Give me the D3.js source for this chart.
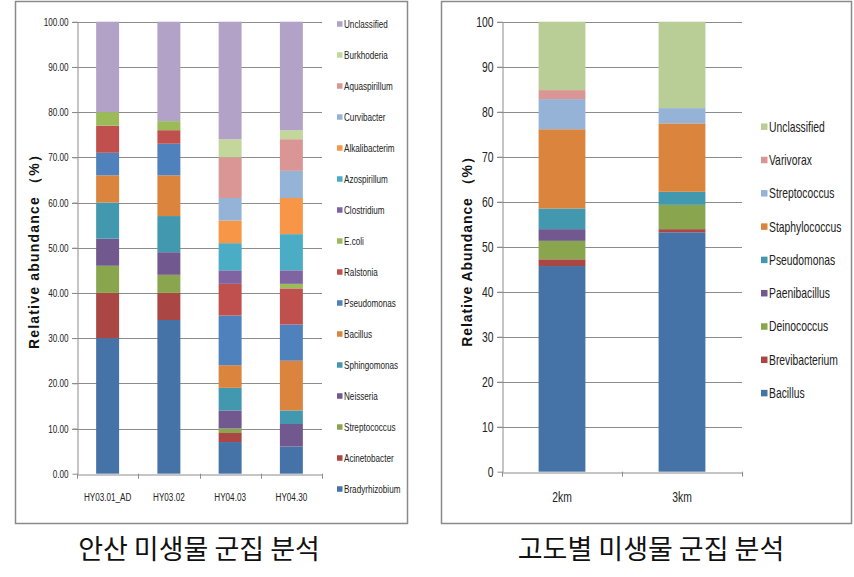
<!DOCTYPE html>
<html><head><meta charset="utf-8">
<script src="https://cdn.jsdelivr.net/npm/d3@7/dist/d3.min.js"></script>
<style>
html,body{margin:0;padding:0;background:#fff;}
svg{display:block;}
</style></head>
<body>
<svg id="chart" width="854" height="577"></svg>
<script>
// ---------- Left chart data ----------
const leftCategories = ["HY03.01_AD", "HY03.02", "HY04.03", "HY04.30"];
const leftSeriesNames = ["Bradyrhizobium","Acinetobacter","Streptococcus","Neisseria","Sphingomonas","Bacillus","Pseudomonas","Ralstonia","E.coli","Clostridium","Azospirillum","Alkalibacterim","Curvibacter","Aquaspirillum","Burkhoderia","Unclassified"];
const leftColors = ["#4572A7","#AA4643","#89A54E","#71588F","#4198AF","#DB843D","#4F81BD","#C0504D","#9BBB59","#8064A2","#4BACC6","#F79646","#95B3D7","#D99694","#C3D69B","#B3A2C7"];
const bradyrhizobium = [30, 34, 7, 6];
const acinetobacter  = [10, 6, 2, 0];
const streptococcusL = [6, 4, 1, 0];
const neisseria      = [6, 5, 4, 5];
const sphingomonas   = [8, 8, 5, 3];
const bacillusL      = [6, 9, 5, 11];
const pseudomonasL   = [5, 7, 11, 8];
const ralstonia      = [6, 3, 7, 8];
const ecoli          = [3, 2, 0, 1];
const clostridium    = [0, 0, 3, 3];
const azospirillum   = [0, 0, 6, 8];
const alkalibacterim = [0, 0, 5, 8];
const curvibacter    = [0, 0, 5, 6];
const aquaspirillum  = [0, 0, 9, 7];
const burkhoderia    = [0, 0, 4, 2];
const unclassifiedL  = [20, 22, 26, 24];
const leftTicks = ["0.00","10.00","20.00","30.00","40.00","50.00","60.00","70.00","80.00","90.00","100.00"];
const leftTitle = "안산 미생물 군집 분석";

// ---------- Right chart data ----------
const rightCategories = ["2km", "3km"];
const rightSeriesNames = ["Bacillus","Brevibacterium","Deinococcus","Paenibacillus","Pseudomonas","Staphylococcus","Streptococcus","Varivorax","Unclassified"];
const rightColors = ["#4572A7","#AA4643","#89A54E","#71588F","#4198AF","#DB843D","#95B3D7","#D99694","#B9CE96"];
const bacillusR       = [45.7, 53.2];
const brevibacterium  = [1.5, 0.7];
const deinococcus     = [4.1, 5.4];
const paenibacillus   = [2.6, 0];
const pseudomonasR    = [4.6, 2.9];
const staphylococcus  = [17.6, 15.2];
const streptococcusR  = [6.7, 3.4];
const varivorax       = [2.0, 0];
const unclassifiedR   = [15.2, 19.2];
const rightTicks = ["0","10","20","30","40","50","60","70","80","90","100"];
const rightTitle = "고도별 미생물 군집 분석";

const leftValues = [bradyrhizobium, acinetobacter, streptococcusL, neisseria, sphingomonas, bacillusL, pseudomonasL, ralstonia, ecoli, clostridium, azospirillum, alkalibacterim, curvibacter, aquaspirillum, burkhoderia, unclassifiedL];
const rightValues = [bacillusR, brevibacterium, deinococcus, paenibacillus, pseudomonasR, staphylococcus, streptococcusR, varivorax, unclassifiedR];

const svg = d3.select("#chart");
const SANS = "'Liberation Sans',Arial,sans-serif";
const SQ = 0.74; // horizontal squeeze to imitate a condensed face

function drawPanel(cfg) {
  const g = svg.append("g");
  g.append("rect").attr("x", cfg.box[0] + 0.5).attr("y", cfg.box[1] + 0.5)
    .attr("width", cfg.box[2]).attr("height", cfg.box[3])
    .attr("fill", "#fff").attr("stroke", "#8a8a8a").attr("stroke-width", 1.5);

  const x = d3.scaleBand().domain(cfg.categories).range([cfg.plot.x0, cfg.plot.x1]).paddingInner(cfg.pad).paddingOuter(cfg.pad / 2);
  const xb = d3.scaleBand().domain(cfg.categories).range([cfg.plot.x0, cfg.plot.x1]);
  const y = d3.scaleLinear().domain([0, 100]).range([cfg.plot.y0, cfg.plot.y1]);

  const tickVals = cfg.ticks.map(t => +t);
  g.append("g").selectAll("line").data(tickVals.filter(v => v > 0)).join("line")
    .attr("x1", cfg.plot.x0 - 5).attr("x2", cfg.plot.x1)
    .attr("y1", d => Math.round(y(d)) + 0.5).attr("y2", d => Math.round(y(d)) + 0.5)
    .attr("stroke", "#8c8c8c").attr("stroke-width", 1);

  const rows = cfg.categories.map((c, i) => {
    const r = { cat: c };
    cfg.series.forEach((s, j) => r[s] = cfg.values[j][i]);
    return r;
  });
  const stack = d3.stack().keys(cfg.series)(rows);
  g.append("g").selectAll("g").data(stack).join("g")
    .attr("fill", (d, i) => cfg.colors[i])
    .selectAll("rect").data(d => d.filter(p => p[1] - p[0] > 0)).join("rect")
    .attr("x", d => x(d.data.cat))
    .attr("width", x.bandwidth())
    .attr("y", d => y(d[1]))
    .attr("height", d => y(d[0]) - y(d[1]));

  const yAxis = d3.axisLeft(y).tickValues(tickVals).tickFormat((d, i) => cfg.ticks[i]).tickSize(5).tickSizeOuter(0);
  const ya = g.append("g").attr("transform", `translate(${cfg.plot.x0 + 0.5},0)`).call(yAxis);
  ya.select(".domain").attr("stroke", "#8c8c8c");
  ya.selectAll(".tick line").attr("stroke", "#8c8c8c");
  ya.selectAll(".tick text").attr("font-family", SANS).attr("font-size", cfg.tickFont).attr("fill", "#222")
    .attr("transform", `scale(${SQ},1)`).attr("x", -cfg.tickGap / SQ);

  const xa = g.append("g").attr("transform", `translate(0,${Math.round(cfg.plot.y0) + 0.5})`)
    .call(d3.axisBottom(xb).tickSize(0).tickSizeOuter(0));
  xa.select(".domain").attr("stroke", "#8c8c8c");
  xa.selectAll(".tick text").attr("font-family", SANS).attr("font-size", cfg.xFont).attr("fill", "#222")
    .attr("y", cfg.xLabelDy).attr("dy", null).attr("transform", `scale(${SQ},1)`);
  const bounds = cfg.categories.map(c => xb(c)).concat([cfg.plot.x1]);
  g.append("g").selectAll("line").data(bounds).join("line")
    .attr("x1", d => Math.round(d) + 0.5).attr("x2", d => Math.round(d) + 0.5)
    .attr("y1", cfg.plot.y0).attr("y2", cfg.plot.y0 + 5)
    .attr("stroke", "#8c8c8c");

  g.append("text").attr("transform", `translate(${cfg.yTitlePos[0]},${cfg.yTitlePos[1]}) rotate(-90)`)
    .attr("text-anchor", "middle").attr("font-family", SANS)
    .attr("font-weight", "bold").attr("font-size", cfg.yTitleFont).attr("fill", "#111")
    .attr("letter-spacing", cfg.yTitleLs)
    .text(cfg.yTitle);

  const legendItems = cfg.series.map((s, i) => ({ name: s, color: cfg.colors[i] })).reverse();
  const lg = g.append("g").selectAll("g").data(legendItems).join("g")
    .attr("transform", (d, i) => `translate(${cfg.legend.x},${cfg.legend.y + i * cfg.legend.step})`);
  lg.append("rect").attr("x", 0).attr("y", -cfg.legend.sq / 2).attr("width", cfg.legend.sq).attr("height", cfg.legend.sq)
    .attr("fill", d => d.color);
  lg.append("text").attr("x", (cfg.legend.sq + 1.5) / SQ).attr("y", 0).attr("dy", "0.35em")
    .attr("transform", `scale(${SQ},1)`)
    .attr("font-family", SANS).attr("font-size", cfg.legend.font).attr("fill", "#222")
    .text(d => d.name);

  svg.append("text").attr("x", cfg.titlePos[0]).attr("y", cfg.titlePos[1]).attr("text-anchor", "middle")
    .attr("font-family", "'Noto Sans CJK KR',sans-serif").attr("font-size", 27).attr("fill", "#111")
    .text(cfg.title);
}

drawPanel({
  box: [15, 1, 392, 522],
  categories: leftCategories, series: leftSeriesNames, values: leftValues, colors: leftColors,
  plot: { x0: 77, x1: 322, y0: 473.7, y1: 21.7 }, pad: 0.625,
  ticks: leftTicks, tickFont: 11, tickGap: 9, xFont: 11, xLabelDy: 27,
  yTitle: "Relative abundance （%）", yTitlePos: [39, 248], yTitleFont: 14, yTitleLs: 1.2,
  legend: { x: 337, y: 24, step: 31, sq: 5.5, font: 11 },
  title: leftTitle, titlePos: [199, 559]
});

drawPanel({
  box: [441, 1, 410, 522],
  categories: rightCategories, series: rightSeriesNames, values: rightValues, colors: rightColors,
  plot: { x0: 502, x1: 742, y0: 471.7, y1: 21.7 }, pad: 0.61,
  ticks: rightTicks, tickFont: 14, tickGap: 9, xFont: 14, xLabelDy: 30,
  yTitle: "Relative Abundance （%）", yTitlePos: [472, 248], yTitleFont: 14, yTitleLs: 0.9,
  legend: { x: 761, y: 126.7, step: 33.3, sq: 6.5, font: 14 },
  title: rightTitle, titlePos: [651, 559]
});
</script>
</body></html>
